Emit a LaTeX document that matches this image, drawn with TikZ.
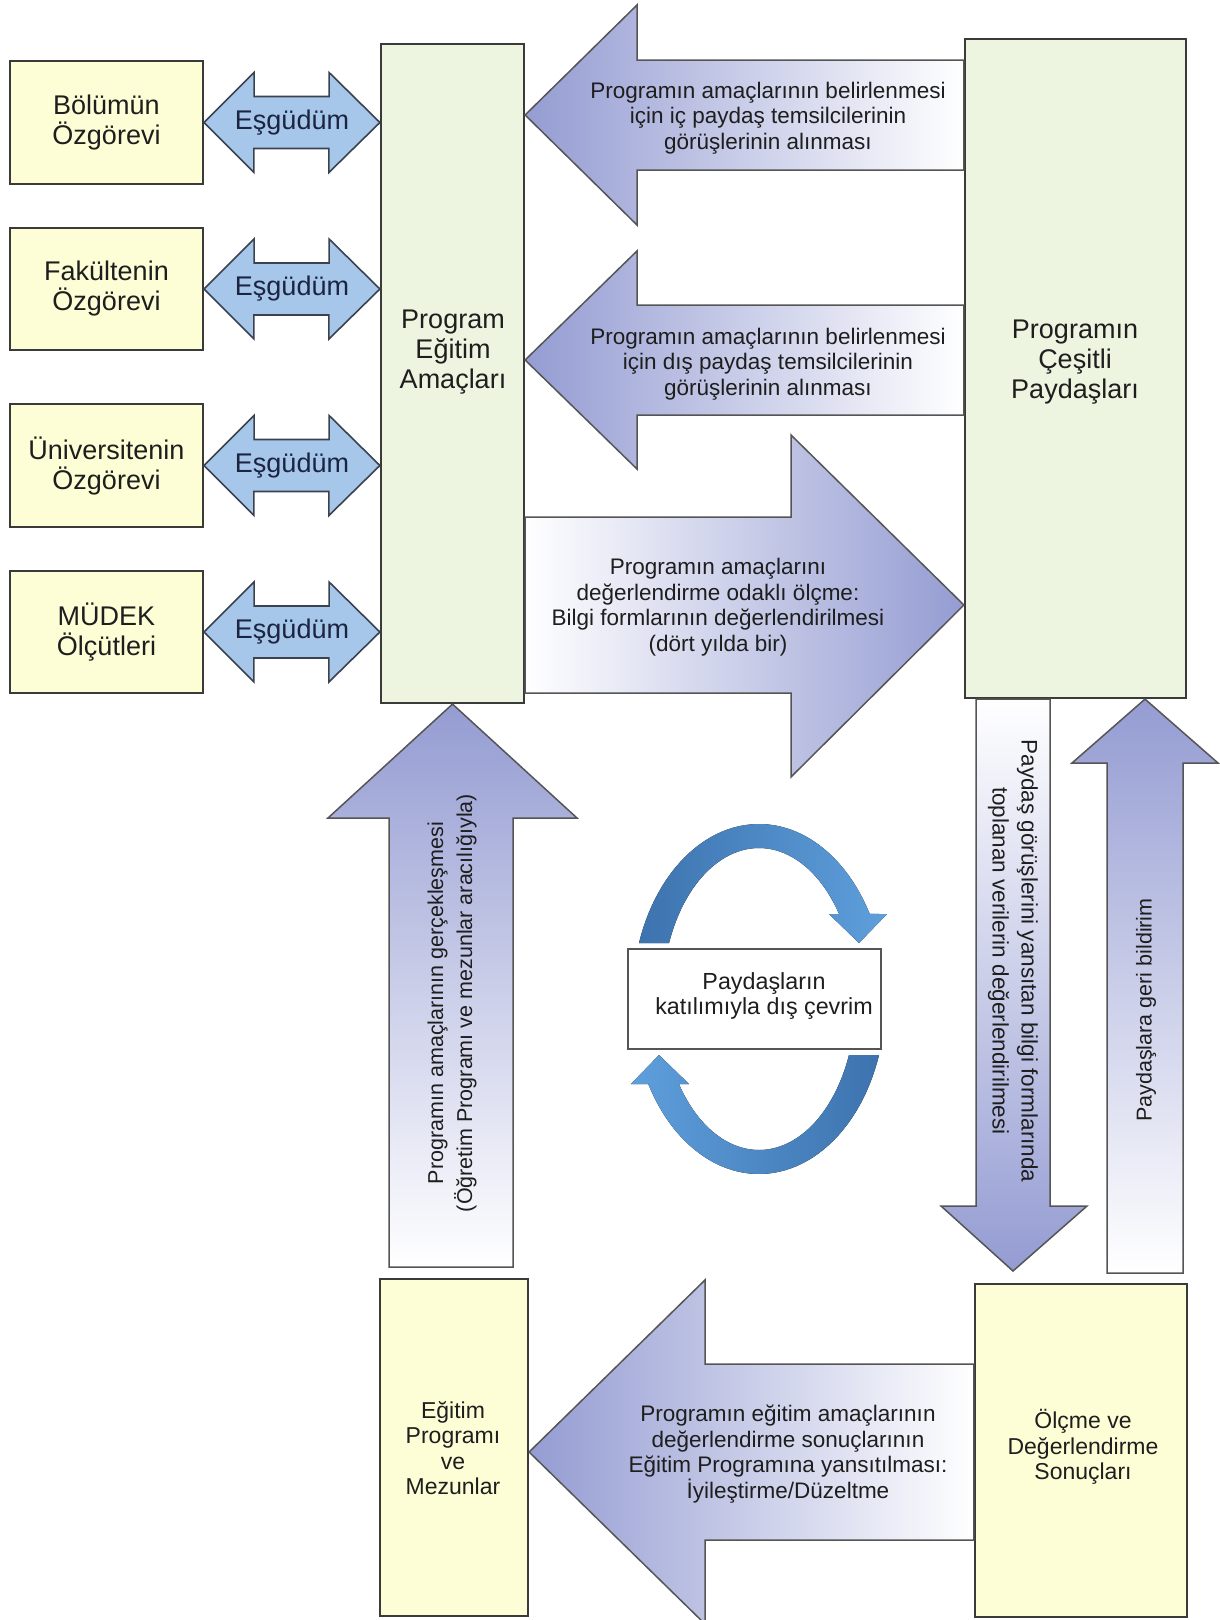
\documentclass[tikz,border=0pt]{standalone}
\usepackage{fontspec}
\setmainfont{Liberation Sans}
\usetikzlibrary{calc}
\definecolor{yel}{HTML}{FDFDD6}
\definecolor{grn}{HTML}{EDF5E1}
\definecolor{esgfill}{HTML}{A6C6EA}
\definecolor{esgline}{HTML}{3A4250}
\definecolor{navy}{HTML}{1B2440}
\definecolor{peri}{HTML}{949CD2}
\definecolor{boxline}{HTML}{3A3A3A}
\definecolor{arrline}{HTML}{555555}
\definecolor{cyd}{HTML}{3D73AE}
\definecolor{cyl}{HTML}{5E9FDC}
\definecolor{txt}{HTML}{1E1E1E}
\begin{document}
\begin{tikzpicture}[x=1pt,y=-1pt,
  ybox/.style={draw=boxline, line width=2.2pt, fill=yel, inner sep=0pt, align=center, text=txt},
  gbox/.style={draw=boxline, line width=2.2pt, fill=grn, inner sep=0pt},
  bigfont/.style={font=\fontsize{27}{30}\selectfont},
  smallbox/.style={font=\fontsize{23}{25.5}\selectfont},
  esgshape/.style={draw=esgline, line width=1.6pt, fill=esgfill},
  esglbl/.style={font=\fontsize{27}{30}\selectfont, text=navy},
  barrow/.style={draw=arrline, line width=1.5pt},
  atext/.style={align=center, text=txt, font=\fontsize{22.5}{25.5}\selectfont},
  vtext/.style={align=center, text=txt, font=\fontsize{21.5}{29}\selectfont},
  cyctext/.style={align=center, text=txt, font=\fontsize{23.3}{25}\selectfont}
]
\useasboundingbox[fill=white] (0,0) rectangle (1219,1620);

% ---------- boxes (nodes) ----------
\node[ybox, bigfont, minimum width=193pt, minimum height=123pt] (bol) at (106.5,122.5) {Bölümün\\Özgörevi};
\node[ybox, bigfont, minimum width=193pt, minimum height=122pt] (fak) at (106.5,289) {Fakültenin\\Özgörevi};
\node[ybox, bigfont, minimum width=193pt, minimum height=123pt] (uni) at (106.5,465.5) {Üniversitenin\\Özgörevi};
\node[ybox, bigfont, minimum width=193pt, minimum height=122pt] (mud) at (106.5,632) {MÜDEK\\Ölçütleri};

\node[gbox, minimum width=143pt, minimum height=659pt] (prog) at (452.5,373.5) {};
\node[gbox, minimum width=221pt, minimum height=659pt] (pay) at (1075.5,368.5) {};
\node[ybox, minimum width=148pt, minimum height=337pt] (egt) at (454,1447.5) {};
\node[ybox, minimum width=212pt, minimum height=333pt] (olc) at (1081,1450.5) {};

% ---------- block arrows ----------
\draw[barrow, left color=peri, right color=white]
  (prog.east |- 0,115) -- (637,5) -- (637,60) -- (pay.west |- 0,60)
  -- (pay.west |- 0,170) -- (637,170) -- (637,225) -- cycle;
\draw[barrow, left color=peri, right color=white]
  (prog.east |- 0,360) -- (637,251) -- (637,305) -- (pay.west |- 0,305)
  -- (pay.west |- 0,415) -- (637,415) -- (637,469) -- cycle;
\draw[barrow, left color=white, right color=peri]
  (prog.east |- 0,517) -- (791,517) -- (791,435) -- (pay.west |- 0,605)
  -- (791,777) -- (791,693) -- (prog.east |- 0,693) -- cycle;
\draw[barrow, top color=peri, bottom color=white]
  (prog.south) -- (577,818) -- (513,818) -- (513,1267) -- (389,1267)
  -- (389,818) -- (328,818) -- cycle;
\draw[barrow, top color=white, bottom color=peri]
  (pay.south -| 976,0) -- (pay.south -| 1050,0) -- (1050,1206) -- (1087,1206)
  -- (1013,1271) -- (941,1206) -- (976,1206) -- cycle;
\draw[barrow, top color=peri, bottom color=white]
  (pay.south -| 1145,0) -- (1218,763) -- (1183,763) -- (1183,1273)
  -- (1107,1273) -- (1107,763) -- (1072,763) -- cycle;
\draw[barrow, left color=peri, right color=white]
  (egt.east |- 0,1452) -- (705,1280) -- (705,1364) -- (olc.west |- 0,1364)
  -- (olc.west |- 0,1540) -- (705,1540) -- (705,1624) -- cycle;

% ---------- coordination double arrows ----------
\foreach \b/\n in {bol/e1, fak/e2, uni/e3, mud/e4}{
  \draw[esgshape] (\b.east) -- ++(50,-50) -- ++(0,24) -- ++(75,0) -- ++(0,-24)
    -- (prog.west |- \b.east) -- ++(-51,50) -- ++(0,-24) -- ++(-75,0) -- ++(0,24) -- cycle;
  \node[esglbl] (\n) at ($(\b.east)!0.5!(prog.west |- \b.east)$) {Eşgüdüm};
}

% ---------- box texts ----------
\node[align=center, text=txt, bigfont] (progtxt) at (453,352) {Program\\Eğitim\\Amaçları};
\node[align=center, text=txt, bigfont] (paytxt) at (1075,362) {Programın\\Çeşitli\\Paydaşları};
\node[align=center, text=txt, smallbox] (egttxt) at (453,1448) {Eğitim\\Programı\\ve\\Mezunlar};
\node[align=center, text=txt, smallbox] (olctxt) at (1083,1447) {Ölçme ve\\Değerlendirme\\Sonuçları};

% ---------- arrow texts ----------
\node[atext] (t1) at (768,118) {Programın amaçlarının belirlenmesi\\için iç paydaş temsilcilerinin\\görüşlerinin alınması};
\node[atext] (t2) at (768,364) {Programın amaçlarının belirlenmesi\\için dış paydaş temsilcilerinin\\görüşlerinin alınması};
\node[atext] (t3) at (718,607) {Programın amaçlarını\\değerlendirme odaklı ölçme:\\Bilgi formlarının değerlendirilmesi\\(dört yılda bir)};
\node[atext] (t4) at (788,1454) {Programın eğitim amaçlarının\\değerlendirme sonuçlarının\\Eğitim Programına yansıtılması:\\İyileştirme/Düzeltme};
\node[vtext, rotate=90] (t5) at (452,1003) {Programın amaçlarının gerçekleşmesi\\(Öğretim Programı ve mezunlar aracılığıyla)};
\node[vtext, rotate=-90, font=\fontsize{22.5}{29}\selectfont] (t6) at (1013,961) {Paydaş görüşlerini yansıtan bilgi formlarında\\toplanan verilerin değerlendirilmesi};
\node[vtext, rotate=90] (t7) at (1146,1010) {Paydaşlara geri bildirim};

% ---------- cycle ----------
\fill[left color=cyd, right color=cyl]
  plot[domain=161.34:29.07, samples=50] ({759+126.7*cos(\x)},{999-175*sin(\x)})
  -- (887,914) -- (859,943) -- (829,914)
  -- plot[domain=34.26:158.23, samples=50] ({759+96.9*cos(\x)},{999-151*sin(\x)}) -- cycle;
\fill[left color=cyl, right color=cyd]
  plot[domain=341.34:209.07, samples=50] ({759+126.7*cos(\x)},{999-175*sin(\x)})
  -- (631,1084) -- (659,1055) -- (689,1084)
  -- plot[domain=214.26:338.23, samples=50] ({759+96.9*cos(\x)},{999-151*sin(\x)}) -- cycle;
\node[draw=arrline, line width=1.5pt, fill=white, minimum width=253pt, minimum height=100pt, inner sep=0pt] (cyc) at (754.5,999) {};
\node[cyctext] (cyctxt) at (764,996) {Paydaşların\\katılımıyla dış çevrim};
\end{tikzpicture}
\end{document}
